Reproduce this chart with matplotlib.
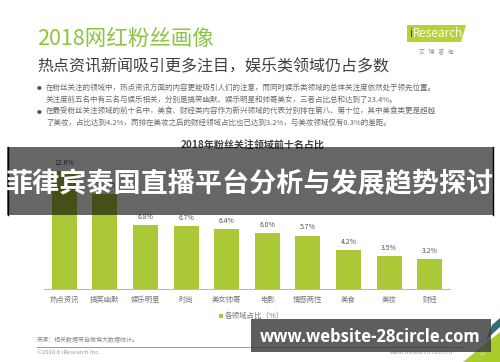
import matplotlib
matplotlib.use("Agg")
import matplotlib.pyplot as plt
from matplotlib.patches import Rectangle, Polygon

plt.rcParams['font.family'] = ['Noto Sans CJK SC', 'DejaVu Sans']

# data
categories = ["热点资讯", "搞笑幽默", "娱乐明星", "时尚", "美女帅哥",
              "电影", "情感两性", "美食", "美妆", "财经"]
shares = [12.6, 10.2, 6.8, 6.7, 6.4, 6.0, 5.7, 4.2, 3.5, 3.2]

title = "2018网红粉丝画像"
subtitle = "热点资讯新闻吸引更多注目，娱乐类领域仍占多数"
bullets = [
    "在粉丝关注的领域中，热点资讯方面的内容更能吸引人们的注意，而同时娱乐类领域的总体关注度依然处于领先位置。",
    "关注度前五名中有三名与娱乐相关，分别是搞笑幽默、娱乐明星和帅哥美女，三者占比总和达到了23.4%。",
    "在最受粉丝关注领域的前十名中，美食、财经类内容作为新兴领域的代表分别排在第八、第十位，其中美食类更是超越",
    "了美妆，占比达到4.2%，而排在美妆之后的财经领域占比也已达到3.2%，与美妆领域仅有0.3%的差距。",
]
chart_title = "2018年粉丝关注领域前十名占比"
legend_label = "各领域占比（%）"
overlay_text = "菲律宾泰国直播平台分析与发展趋势探讨"
watermark = "www.website-28circle.com"

W, H = 500, 362
green = "#abc837"


def fx(x):
    return x / W


def fy(y):
    return 1 - y / H


fig = plt.figure(figsize=(5, 3.62), dpi=100)
fig.patch.set_facecolor("white")

# header
fig.text(fx(37), fy(39), title, fontsize=15.5, color="#8cc540", va="center", ha="left")
fig.text(fx(37), fy(67), subtitle, fontsize=11.5, color="#404040", va="center", ha="left")
for i, line in enumerate(bullets):
    y = [89, 100, 112, 123][i]
    if i in (0, 2):
        fig.text(fx(39), fy(y), "●", fontsize=3.5, color="#555555", va="center", ha="center")
    fig.text(fx(46), fy(y), line, fontsize=5.45, color="#6a6a6a", va="center", ha="left")

# logo
fig.add_artist(Polygon([(fx(407), fy(25)), (fx(466), fy(25)), (fx(461), fy(42)), (fx(407), fy(42))],
                       closed=True, facecolor="#b5d334", edgecolor="none", transform=fig.transFigure))
fig.text(fx(409), fy(33.5), "i", fontsize=8.5, color="#1d3b5c", va="center", ha="left",
         family="Open Sans")
fig.text(fx(413), fy(33.5), "Research", fontsize=8.5, color="white", va="center", ha="left",
         family="Open Sans")
fig.text(fx(436), fy(52), "艾   瑞   咨   询", fontsize=4.2, color="#888888", va="center", ha="center")

# bar chart
ax = fig.add_axes([fx(44), fy(289), fx(450) - fx(44), (289 - 160) / H])
x = range(len(categories))
ax.bar(x, shares, width=0.62, color=green, zorder=2)
for xi, v in zip(x, shares):
    ax.text(xi, v + 0.45, f"{v:.1f}%", ha="center", va="bottom", fontsize=5, color="#555555")
ax.set_xlim(-0.5, 9.5)
ax.set_ylim(0, 129 / 9.35)
ax.set_xticks(list(x))
ax.set_xticklabels(categories, fontsize=5.3, color="#777777")
ax.tick_params(axis="x", length=0, pad=5)
ax.set_yticks([])
for s in ["top", "right", "left"]:
    ax.spines[s].set_visible(False)
ax.spines["bottom"].set_color("#bbbbbb")
ax.spines["bottom"].set_linewidth(0.8)
ax.patch.set_alpha(0)

fig.text(fx(253), fy(146), chart_title, fontsize=7.2, fontweight="bold", color="#404040",
         va="center", ha="center")

# legend
fig.add_artist(Rectangle((fx(219), fy(318)), fx(4), 4 / H, facecolor=green, edgecolor="none",
                         transform=fig.transFigure))
fig.text(fx(225), fy(316), legend_label, fontsize=5.4, color="#777777", va="center", ha="left")

# footer
fig.text(fx(37), fy(340), "来源：相关数据来自微博大数据统计。", fontsize=4.3, color="#888888",
         va="center", ha="left")
fig.add_artist(plt.Line2D([fx(37), fx(462)], [fy(347), fy(347)], color="#999999", linewidth=0.7,
                          transform=fig.transFigure))
fig.text(fx(37), fy(353), "©2018.6 iResearch Inc.", fontsize=4.3, color="#999999",
         va="center", ha="left")
fig.text(fx(453), fy(353), "www.iresearch.com.cn", fontsize=4.3, color="#999999",
         va="center", ha="right")
fig.add_artist(Polygon([(fx(463), fy(362)), (fx(500), fy(362)), (fx(500), fy(332))], closed=True,
                       facecolor="#a8cc2c", edgecolor="none", transform=fig.transFigure, zorder=2))
fig.add_artist(Polygon([(fx(486), fy(340)), (fx(500), fy(327)), (fx(500), fy(318)), (fx(492), fy(325))],
                       closed=True, facecolor="#2f6f7a", edgecolor="none", transform=fig.transFigure,
                       zorder=2))
fig.text(fx(483), fy(353), "17", fontsize=4.5, color="#e8f0c0", va="center", ha="center", zorder=3)

# overlay band
fig.add_artist(Rectangle((fx(7), fy(215)), fx(493) - fx(7), (215 - 147) / H, facecolor="black",
                         alpha=0.6, edgecolor="none", transform=fig.transFigure, zorder=5))
fig.add_artist(plt.Line2D([fx(7.5), fx(7.5)], [fy(147), fy(215)], color="black", linewidth=1,
                          transform=fig.transFigure, zorder=5))
fig.add_artist(plt.Line2D([fx(493), fx(493)], [fy(147), fy(215)], color="black", linewidth=1,
                          transform=fig.transFigure, zorder=5))
fig.text(fx(250), fy(184), overlay_text, fontsize=19.5, fontweight="bold", color="white",
         va="center", ha="center", zorder=6)

# watermark box
fig.add_artist(Rectangle((fx(251), fy(352)), fx(491) - fx(251), (352 - 319) / H, facecolor="#3a3a3a",
                         alpha=0.82, edgecolor="none", transform=fig.transFigure, zorder=5))
fig.text(fx(370), fy(337), watermark, fontsize=12, fontweight="bold", color="white",
         va="center", ha="center", family="Open Sans", zorder=6)

fig.savefig("out.png", dpi=100)
